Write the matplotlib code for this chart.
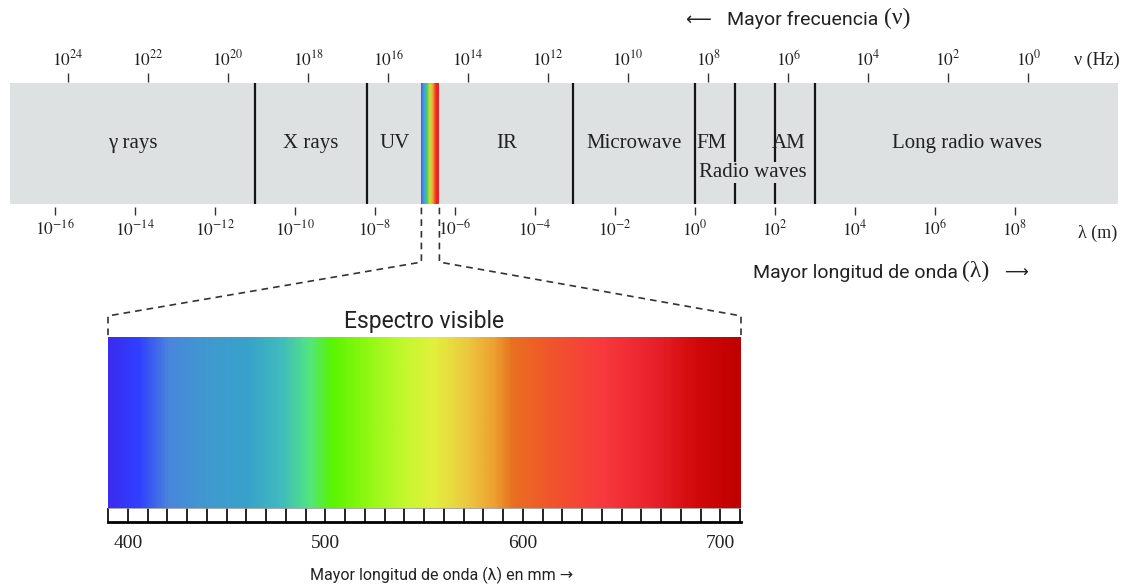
import numpy as np
import matplotlib.pyplot as plt
from matplotlib.colors import LinearSegmentedColormap
from matplotlib.lines import Line2D

plt.rcParams["mathtext.fontset"] = "stix"
plt.rcParams["font.family"] = ["Liberation Serif", "DejaVu Serif"]
SANS = ["Roboto", "DejaVu Sans"]
SERIF = ["Liberation Serif", "DejaVu Serif"]

# electromagnetic band, x = log10(wavelength in m)
lambda_exps = list(range(-16, 9, 2))
freq_exps = list(range(24, -1, -2))
freq_offset = 8.33          # log10(lambda) where the 10^0 Hz tick sits in the drawing
band_range = (-17.125, 10.575)
boundaries = [-11.0, -8.2, -3.05, 0.0, 1.0, 2.0, 3.0]
visible_band = (-6.84, -6.39)
region_names = ["γ rays", "X rays", "UV", "IR", "Microwave", "FM", "AM", "Long radio waves"]
region_pos = [-14.06, -9.6, -7.5, -4.7, -1.53, 0.42, 2.35, 6.79]
radio_label_pos = 1.45

rainbow_colors = ["#4a5ae8", "#3f9ef0", "#4ccc58", "#cfe040", "#f0a030", "#f02828", "#e82020"]

# visible spectrum, x = wavelength in nm
spec_range = (390, 710.5)
spec_nm = [390, 405, 420, 440, 460, 478, 492, 503, 520, 540, 555, 572, 586, 595, 612, 640, 668, 690, 710.5]
spec_colors = ["#3a2cf0", "#3040ff", "#4a86dc", "#3f9acf", "#38a2cb", "#40bcbc", "#52e67e",
               "#58f400", "#8cf812", "#c4f82e", "#e2f03c", "#ecc840", "#eca030", "#e87020",
               "#f0582a", "#f83a3e", "#e8202a", "#d00808", "#c00000"]
spec_minor = list(range(390, 711, 10))
spec_major = [400, 500, 600, 700]

W, H = 1132, 585
fig = plt.figure(figsize=(W / 100, H / 100), dpi=100)

# ---- top band ----
ax = fig.add_axes([10 / W, 1 - 204 / H, 1108 / W, 121 / H])
ax.set_facecolor("#dde1e1")
ax.set_xlim(band_range)
ax.set_ylim(0, 1)
for b in boundaries:
    ax.axvline(b, color="#151515", lw=1.6, zorder=2)

grad = np.linspace(0, 1, 200).reshape(1, -1)
rb_cmap = LinearSegmentedColormap.from_list("rb", rainbow_colors)
ax.imshow(grad, extent=(visible_band[0], visible_band[1], 0, 1), aspect="auto",
          cmap=rb_cmap, zorder=2)

for name, pos in zip(region_names, region_pos):
    ax.text(pos, 0.50, name, ha="center", va="center", fontsize=15, color="#222", zorder=4)
ax.text(radio_label_pos, 0.26, "Radio waves", ha="center", va="center", fontsize=15,
        color="#222", zorder=4,
        bbox=dict(facecolor="#dde1e1", edgecolor="none", pad=0.5))

for s in ax.spines.values():
    s.set_visible(False)
ax.spines["bottom"].set_position(("outward", 2))
ax.set_yticks([])
ax.set_xticks(lambda_exps)
ax.set_xticklabels([f"$10^{{{e}}}$" for e in lambda_exps], fontsize=12.5, color="#222")
ax.tick_params(axis="x", direction="out", length=6, width=1, color="#333", pad=3)

ax2 = ax.twiny()
ax2.set_xlim(band_range)
ax2.patch.set_visible(False)
for s in ax2.spines.values():
    s.set_visible(False)
ax2.spines["top"].set_position(("outward", 1))
ax2.set_xticks([freq_offset - e for e in freq_exps])
ax2.set_xticklabels([f"$10^{{{e}}}$" for e in freq_exps], fontsize=12.5, color="#222")
ax2.tick_params(axis="x", direction="out", length=6.5, width=1, color="#333", pad=2)

xt = ax.get_xaxis_transform()
ax.text(10.05, 1.19, "ν (Hz)", transform=xt, ha="center", va="center", fontsize=13,
        family=SERIF, color="#222")
ax.text(10.07, -0.24, "λ (m)", transform=xt, ha="center", va="center", fontsize=13,
        family=SERIF, color="#222")

# "<- Mayor frecuencia (v)"
ax.text(0.07, 1.52, "⟵", transform=xt, ha="center", va="center",
        fontsize=13, family="DejaVu Sans", color="#222")
ax.text(0.79, 1.52, "Mayor frecuencia", transform=xt, ha="left", va="center",
        fontsize=14, family=SANS, color="#222")
ax.text(4.73, 1.53, "(ν)", transform=xt, ha="left", va="center",
        fontsize=17, family=SERIF, color="#222")

# "Mayor longitud de onda (lambda) ->"
ax.text(1.44, -0.57, "Mayor longitud de onda", transform=xt, ha="left",
        va="center", fontsize=14, family=SANS, color="#222")
ax.text(6.68, -0.56, "(λ)", transform=xt, ha="left",
        va="center", fontsize=17, family=SERIF, color="#222")
ax.text(8.03, -0.57, "⟶", transform=xt, ha="center", va="center",
        fontsize=12, family="DejaVu Sans", color="#222")

# ---- visible spectrum ----
axs = fig.add_axes([108 / W, 1 - 522 / H, 633 / W, 185 / H])
axs.set_xlim(spec_range)
axs.set_ylim(-0.082, 1)
pos = [(v - spec_range[0]) / (spec_range[1] - spec_range[0]) for v in spec_nm]
sp_cmap = LinearSegmentedColormap.from_list("spec", list(zip(pos, spec_colors)))
axs.imshow(np.linspace(0, 1, 600).reshape(1, -1), extent=(spec_range[0], spec_range[1], 0, 1),
           aspect="auto", cmap=sp_cmap)
for side in ["top", "left", "right"]:
    axs.spines[side].set_visible(False)
axs.spines["bottom"].set_linewidth(2)
axs.set_yticks([])
axs.set_xticks(spec_major)
axs.set_xticklabels([str(v) for v in spec_major], fontsize=14, color="#222")
axs.set_xticks(spec_minor, minor=True)
axs.tick_params(axis="x", which="both", direction="in", length=10, width=1.3, color="#111", pad=9)
axs.axhline(0, color="#999", lw=0.6)

sx = axs.get_xaxis_transform()
axs.text(550, 1.086, "Espectro visible", transform=sx, ha="center", va="center",
         fontsize=16.5, family=SANS, color="#222")
axs.text(559, -0.286, "Mayor longitud de onda (λ) en mm →", transform=sx,
         ha="center", va="center", fontsize=11.5, family=SANS, color="#222")

# dashed zoom lines from the band to the spectrum
inv = fig.transFigure.inverted()


def fig_pt(trans, x, y):
    return inv.transform(trans.transform((x, y)))


for vx, sxv in [(visible_band[0], spec_range[0]), (visible_band[1], spec_range[1])]:
    pts = [fig_pt(xt, vx, -0.03), fig_pt(xt, vx, -0.48),
           fig_pt(sx, sxv, 1.114), fig_pt(sx, sxv, 1.0)]
    pts = np.array(pts)
    fig.add_artist(Line2D(pts[:, 0], pts[:, 1], transform=fig.transFigure, color="#333",
                          lw=1.2, linestyle=(0, (4, 3))))

fig.savefig("out.png", dpi=100)
